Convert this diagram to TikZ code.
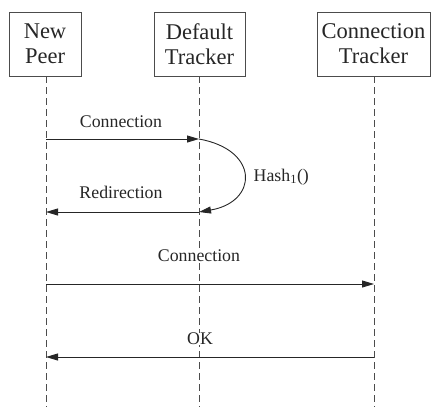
\documentclass[tikz,border=0pt]{standalone}
\usepackage{fontspec}
\setmainfont{Liberation Serif}
\usetikzlibrary{arrows.meta}
\begin{document}
\begin{tikzpicture}[x=1pt,y=-1pt,
  actor/.style={draw=black!70,line width=0.9pt,align=center,inner sep=0pt,minimum height=64pt,font=\fontsize{22.5}{25}\selectfont,text=black!85},
  life/.style={draw=black!70,line width=0.8pt,dash pattern=on 7pt off 4pt},
  msg/.style={draw=black!85,line width=0.9pt,-{Triangle[length=12pt,width=7pt]}},
  lbl/.style={font=\fontsize{17.8}{20}\selectfont,text=black!85,inner sep=0.5pt,fill=white}]
\useasboundingbox (0,0) rectangle (433,407);
\node[actor,minimum width=72pt] (np) at (45,44) {New\\Peer};
\node[actor,minimum width=91pt] (dt) at (199.5,44) {Default\\Tracker};
\node[actor,minimum width=113pt] (ct) at (373.5,44) {Connection\\Tracker};
\coordinate (npe) at (46,407);
\coordinate (dte) at (199,407);
\coordinate (cte) at (374,407);
\draw[life] (np.south -| npe) -- (npe);
\draw[life] (dt.south -| dte) -- (dte);
\draw[life] (ct.south -| cte) -- (cte);
\coordinate (a1) at (46,139); \coordinate (b1) at (199,139);
\coordinate (a2) at (46,212); \coordinate (b2) at (199,212);
\coordinate (a3) at (46,284); \coordinate (c3) at (374,284);
\coordinate (a4) at (46,357); \coordinate (c4) at (374,357);
\draw[msg] (a1) -- (b1);
\draw[msg] (b1) .. controls (260,150) and (258,202) .. (b2);
\draw[msg] (b2) -- (a2);
\draw[msg] (a3) -- (c3);
\draw[msg] (c4) -- (a4);
\node[lbl] (l1) at (121,122) {Connection};
\node[lbl] (l2) at (121,192) {Redirection};
\node[lbl,anchor=west] (l3) at (253,177) {Hash\textsubscript{1}()};
\node[lbl] (l4) at (199,256) {Connection};
\node[lbl] (l5) at (200,339) {OK};
\end{tikzpicture}
\end{document}
